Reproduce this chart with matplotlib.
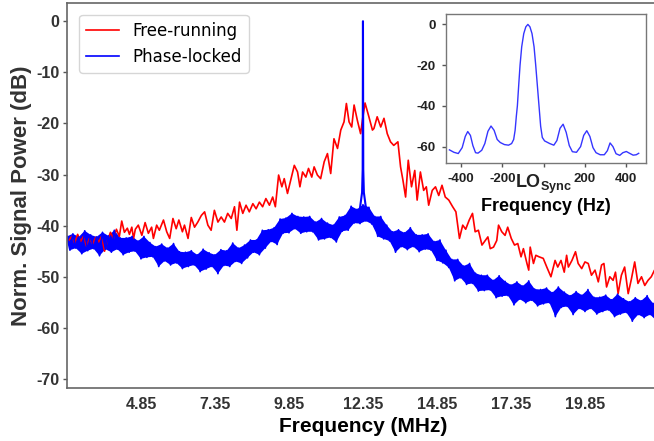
import numpy as np
import matplotlib
matplotlib.use("Agg")
import matplotlib.pyplot as plt

plt.rcParams['font.family'] = ['Liberation Sans', 'DejaVu Sans']
plt.rcParams['mathtext.fontset'] = 'custom'
plt.rcParams['mathtext.bf'] = 'Liberation Sans:bold'
plt.rcParams['mathtext.rm'] = 'Liberation Sans'
plt.rcParams['axes.unicode_minus'] = False

# ---- free-running trace (MHz, dB) ----
free_freq = [2.41, 2.51, 2.61, 2.71, 2.81, 2.91, 3.01, 3.11, 3.22, 3.32,
             3.42, 3.52, 3.62, 3.72, 3.82, 3.92, 4.02, 4.12, 4.20, 4.29,
             4.39, 4.46, 4.54, 4.60, 4.66, 4.76, 4.88, 4.99, 5.10, 5.21,
             5.27, 5.38, 5.47, 5.61, 5.72, 5.82, 5.93, 6.04, 6.13, 6.25,
             6.32, 6.44, 6.55, 6.66, 6.77, 6.89, 7.00, 7.11, 7.22, 7.33,
             7.45, 7.56, 7.67, 7.78, 7.90, 8.01, 8.09, 8.18, 8.29, 8.40,
             8.51, 8.63, 8.74, 8.85, 8.96, 9.07, 9.19, 9.30, 9.39, 9.50,
             9.61, 9.69, 9.80, 9.92, 10.03, 10.14, 10.22, 10.31, 10.42, 10.51,
             10.62, 10.70, 10.81, 10.92, 11.04, 11.15, 11.26, 11.37, 11.49, 11.60,
             11.71, 11.79, 11.88, 11.97, 12.05, 12.16, 12.27, 12.34, 12.42, 12.55,
             12.67, 12.72, 12.83, 12.95, 13.06, 13.17, 13.28, 13.39, 13.53, 13.62,
             13.70, 13.79, 13.88, 13.99, 14.10, 14.18, 14.29, 14.40, 14.49, 14.57,
             14.69, 14.80, 14.91, 15.02, 15.13, 15.25, 15.38, 15.49, 15.61, 15.72,
             15.82, 15.94, 16.05, 16.14, 16.25, 16.37, 16.48, 16.57, 16.65, 16.76,
             16.87, 16.93, 17.04, 17.15, 17.24, 17.36, 17.47, 17.58, 17.69, 17.77,
             17.89, 17.95, 18.00, 18.11, 18.19, 18.30, 18.44, 18.56, 18.70, 18.84,
             18.93, 19.04, 19.15, 19.23, 19.29, 19.41, 19.53, 19.62, 19.74, 19.85,
             19.96, 20.07, 20.19, 20.30, 20.41, 20.49, 20.58, 20.69, 20.80, 20.88,
             20.97, 21.08, 21.19, 21.31, 21.42, 21.53, 21.64, 21.76, 21.87, 21.98,
             22.09, 22.20, 22.30]
free_db = [-42.9, -42.1, -43.4, -41.7, -43.1, -42.1, -44.0, -42.5, -43.6, -42.3,
           -43.2, -42.1, -45.0, -42.9, -41.3, -42.5, -40.7, -42.1, -39.1, -41.3,
           -40.5, -41.7, -40.3, -42.5, -40.7, -39.9, -41.9, -39.4, -41.5, -40.3,
           -42.5, -39.9, -40.9, -38.9, -41.2, -42.5, -38.6, -40.6, -38.9, -41.2,
           -39.9, -42.5, -38.4, -40.3, -39.3, -38.0, -37.3, -39.9, -40.9, -37.0,
           -39.3, -38.3, -39.3, -37.6, -38.6, -36.3, -40.9, -35.4, -37.6, -36.0,
           -37.3, -35.7, -36.7, -35.4, -36.3, -34.7, -36.0, -34.4, -36.3, -30.1,
           -32.4, -30.8, -33.7, -30.8, -28.2, -29.5, -32.4, -29.5, -30.5, -28.8,
           -30.5, -28.5, -30.1, -30.8, -27.5, -25.9, -29.8, -23.0, -24.9, -21.3,
           -19.7, -16.1, -19.7, -20.7, -16.4, -19.4, -22.0, -19.0, -16.0, -18.7,
           -21.3, -21.0, -18.7, -20.7, -19.0, -22.0, -23.6, -24.3, -23.6, -28.5,
           -31.1, -34.4, -27.2, -32.4, -29.2, -35.0, -29.5, -33.1, -32.4, -36.0,
           -33.1, -32.4, -34.1, -32.1, -34.4, -35.0, -36.3, -37.3, -42.5, -39.9,
           -40.7, -38.9, -37.6, -41.2, -40.9, -43.8, -42.9, -42.2, -44.5, -44.2,
           -42.9, -39.9, -41.2, -41.9, -40.3, -42.5, -43.8, -43.5, -46.1, -44.5,
           -47.4, -48.7, -44.2, -47.4, -45.8, -46.1, -46.4, -48.1, -50.0, -46.8,
           -48.1, -46.8, -49.1, -45.8, -48.1, -46.8, -45.1, -47.4, -48.4, -47.1,
           -47.4, -49.7, -48.7, -51.0, -47.7, -47.4, -52.0, -50.0, -50.7, -49.1,
           -53.3, -49.7, -48.1, -53.3, -50.4, -47.1, -51.3, -50.0, -51.7, -50.7,
           -50.0, -48.7, -49.9]

# ---- phase-locked trace, sampled every 0.1 MHz from 2.35 to 22.35 ----
locked_freq = np.linspace(2.35, 22.35, 201)
locked_db = [-42.1, -44.8, -41.6, -44.4, -42.2, -45.5, -41.0, -44.9, -41.8, -44.5,
             -42.2, -45.9, -41.3, -44.6, -42.0, -45.2, -40.9, -44.6, -42.4, -45.7,
             -42.4, -45.2, -42.1, -45.0, -43.0, -46.5, -42.1, -46.2, -43.3, -46.1,
             -44.1, -48.0, -43.6, -46.9, -44.4, -47.7, -43.5, -47.3, -45.1, -48.4,
             -45.2, -48.0, -44.9, -47.7, -45.7, -49.0, -44.6, -48.5, -45.3, -48.0,
             -45.7, -49.4, -44.7, -47.8, -44.9, -48.0, -43.4, -47.0, -44.4, -47.4,
             -43.8, -46.3, -42.8, -45.2, -42.8, -45.7, -40.9, -44.4, -40.8, -43.1,
             -40.4, -43.7, -38.7, -41.5, -38.5, -41.4, -37.6, -40.6, -38.2, -41.5,
             -38.3, -41.2, -38.2, -41.2, -39.3, -42.8, -38.6, -42.6, -39.5, -42.3,
             -39.9, -43.2, -38.3, -41.1, -38.0, -40.9, -36.2, -39.5, -36.8, -39.6,
             -35.9, -39.1, -36.4, -39.7, -38.2, -42.1, -38.2, -42.6, -39.9, -43.0,
             -41.2, -45.2, -40.8, -44.1, -41.4, -44.7, -40.4, -44.1, -41.8, -45.1,
             -41.8, -44.6, -41.6, -44.8, -43.1, -46.8, -42.8, -47.3, -44.8, -48.2,
             -46.6, -50.8, -46.6, -50.2, -47.9, -51.5, -47.4, -51.3, -49.3, -52.8,
             -49.7, -52.7, -49.7, -52.6, -50.7, -54.1, -49.8, -53.8, -50.9, -53.7,
             -51.6, -55.5, -51.0, -54.4, -51.8, -55.1, -50.8, -54.6, -52.4, -55.7,
             -52.5, -55.3, -52.2, -55.1, -53.1, -57.8, -52.0, -56.0, -53.0, -55.8,
             -53.7, -57.4, -52.9, -56.2, -53.6, -56.8, -52.5, -56.2, -54.0, -57.3,
             -54.0, -56.8, -53.6, -56.5, -54.5, -57.8, -53.4, -57.3, -54.3, -57.0,
             -54.9, -58.7, -54.1, -57.4, -54.7, -58.0, -53.7, -57.4, -55.2, -58.5,
             -55.3]

# carrier line of the locked trace
carrier_freq = [12.25, 12.32, 12.34, 12.35, 12.36, 12.38, 12.45]
carrier_db = [-36.5, -33.5, -29.0, 0.0, -29.0, -33.5, -36.5]

# ---- inset: zoom around LO_Sync (Hz, dB) ----
lo_freq = [-457, -435, -414, -395, -380, -368, -355, -343, -330, -318,
           -300, -285, -270, -255, -240, -225, -210, -190, -170, -155,
           -145, -138, -132, -127, -120, -114, -106, -96, -86, -76,
           -66, -56, -46, -38, -30, -22, -14, -6, 5, 30,
           50, 65, 80, 95, 110, 125, 140, 160, 180, 195,
           210, 225, 240, 255, 275, 295, 310, 323, 337, 352,
           370, 385, 402, 418, 435, 450, 462]
lo_db = [-61.6, -62.8, -63.4, -60.5, -55.0, -52.6, -54.5, -59.5, -63.0, -63.2,
         -61.8, -58.5, -52.5, -49.9, -52.0, -56.5, -58.0, -59.0, -59.3, -58.5,
         -56.5, -52.0, -45.0, -40.0, -29.0, -20.0, -11.0, -4.5, -1.2, 0.0,
         -1.2, -4.5, -11.0, -20.0, -30.0, -40.0, -50.0, -55.5, -57.2, -58.5,
         -59.3, -57.0, -51.0, -49.0, -53.0, -59.5, -62.5, -62.8, -60.0, -54.5,
         -52.2, -55.0, -60.5, -63.0, -64.0, -64.0, -62.0, -58.2, -60.0, -63.5,
         -64.3, -63.0, -62.4, -63.3, -64.2, -64.0, -63.3]

main_xticks = [4.85, 7.35, 9.85, 12.35, 14.85, 17.35, 19.85]
main_yticks = [0, -10, -20, -30, -40, -50, -60, -70]
inset_xticks = [-400, -200, 0, 200, 400]
inset_xlabels = ['-400', '-200', r'$\mathbf{LO}_{\mathbf{Sync}}$', '200', '400']
inset_yticks = [0, -20, -40, -60]

fig = plt.figure(figsize=(6.54, 4.41), dpi=100)
ax = fig.add_axes([0.1024, 0.1209, 0.9052, 0.8716])

ax.plot(free_freq, free_db, color='#ff0000', lw=1.2, label='Free-running')

# noisy locked trace: fill the band between its peaks and dips, then the trace itself
locked_db = np.asarray(locked_db)
band_x = np.r_[locked_freq[0::2], locked_freq[1::2][::-1]]
band_y = np.r_[locked_db[0::2], locked_db[1::2][::-1]]
ax.fill(band_x, band_y, color='#0000ff', lw=0)
ax.plot(locked_freq, locked_db, color='#0000ff', lw=1.2, label='Phase-locked')
ax.plot(carrier_freq, carrier_db, color='#0000ff', lw=1.5)

ax.set_xlim(2.35, 22.35)
ax.set_ylim(-71.7, 3.5)
ax.set_xticks(main_xticks)
ax.set_xticklabels([f'{v:.2f}' for v in main_xticks])
ax.set_yticks(main_yticks)
ax.tick_params(axis='x', length=0, pad=7, labelsize=11.5, labelcolor='#333333')
ax.tick_params(axis='y', length=3, width=1, pad=2.5, labelsize=11.5,
               labelcolor='#333333', color='#555555')
for lab in ax.get_xticklabels() + ax.get_yticklabels():
    lab.set_fontweight('bold')
for sp in ax.spines.values():
    sp.set_color('#666666')
    sp.set_linewidth(1.2)

ax.set_xlabel('Frequency (MHz)', fontsize=15, fontweight='bold', labelpad=3)
ax.set_ylabel('Norm. Signal Power (dB)', fontsize=16, fontweight='bold',
              color='#333333', labelpad=3)

ax.legend(loc='upper left', bbox_to_anchor=(0.0208, 0.9696), borderaxespad=0,
          prop={'family': 'DejaVu Sans', 'size': 12}, fancybox=True,
          framealpha=0.8, edgecolor='#cccccc')

# inset
axin = fig.add_axes([0.6815, 0.6297, 0.3058, 0.3385])
axin.plot(lo_freq, lo_db, color='#3535ff', lw=1.0)
axin.set_xlim(-475, 496)
axin.set_ylim(-68.2, 5.1)
axin.set_xticks(inset_xticks)
axin.set_xticklabels(inset_xlabels)
axin.set_yticks(inset_yticks)
axin.tick_params(length=3, width=1, pad=4, labelsize=9.5, color='#555555',
                 labelcolor='#222222')
for lab in axin.get_xticklabels() + axin.get_yticklabels():
    lab.set_fontweight('bold')
axin.get_xticklabels()[2].set_fontsize(13)
axin.set_xlabel('Frequency (Hz)', fontsize=13, fontweight='bold', labelpad=1)
for sp in axin.spines.values():
    sp.set_color('#777777')
    sp.set_linewidth(1.0)

fig.savefig('out.png', dpi=100)
